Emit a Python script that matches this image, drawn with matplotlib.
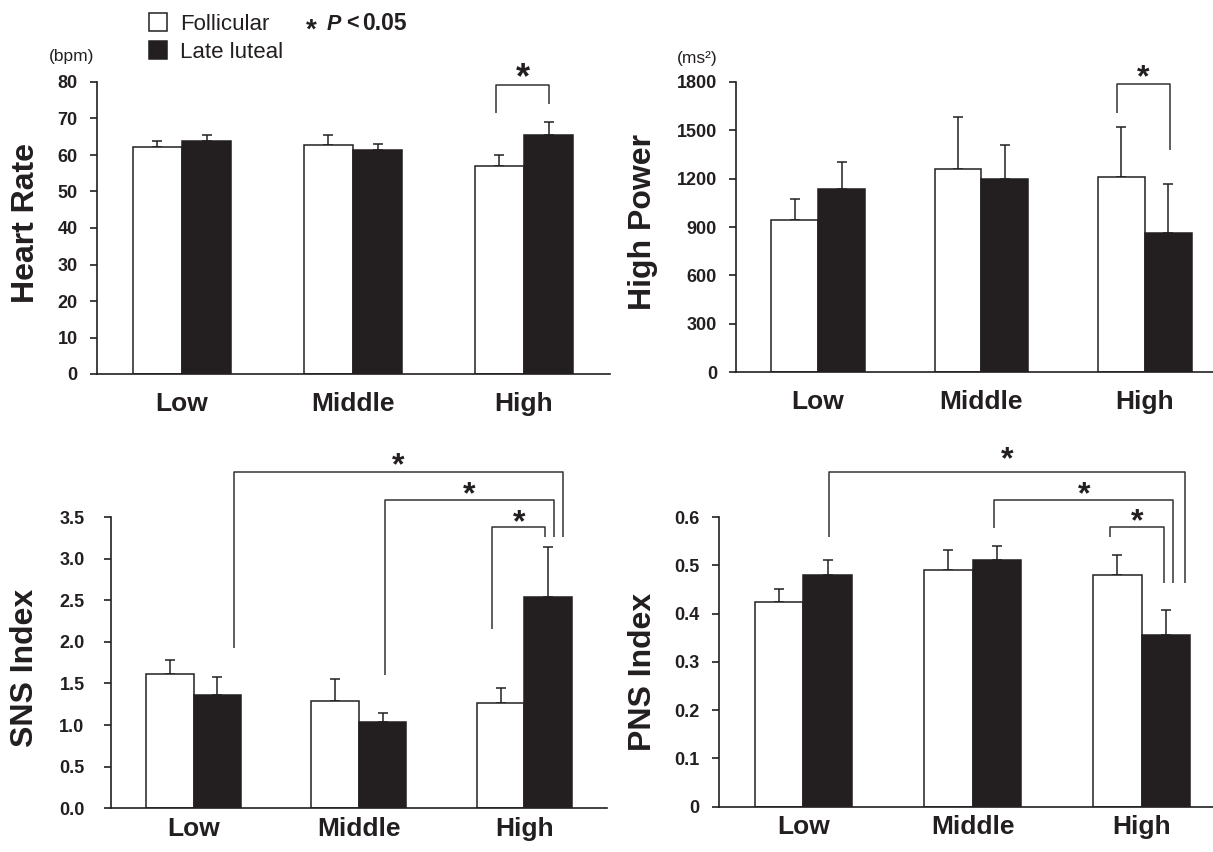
import matplotlib
matplotlib.use("Agg")
import matplotlib.pyplot as plt
from matplotlib.patches import Rectangle
import numpy as np

W, H = 1213, 852
FONT = "Liberation Sans"
DARK = "#231f20"

# ── data ─────────────────────────────────────────────────────────────────────
categories = ["Low", "Middle", "High"]

hr_fol = [62.3, 62.8, 57.1]
hr_fol_err = [1.5, 2.6, 2.8]
hr_lut = [63.9, 61.4, 65.6]
hr_lut_err = [1.5, 1.7, 3.4]

hp_fol = [943, 1261, 1210]
hp_fol_err = [130, 318, 307]
hp_lut = [1133, 1199, 865]
hp_lut_err = [172, 209, 303]

sns_fol = [1.61, 1.29, 1.26]
sns_fol_err = [0.17, 0.26, 0.19]
sns_lut = [1.36, 1.04, 2.54]
sns_lut_err = [0.22, 0.10, 0.60]

pns_fol = [0.423, 0.491, 0.479]
pns_fol_err = [0.028, 0.041, 0.043]
pns_lut = [0.479, 0.510, 0.355]
pns_lut_err = [0.031, 0.029, 0.052]

# brackets: (x_left, x_right, y_top, y_left_end, y_right_end, y_star)
hr_brackets = [(1.836, 2.146, 79.3, 71.5, 73.9, 82.8)]
hp_brackets = [(1.830, 2.153, 1784, 1608, 1377, 1862)]
sns_brackets = [
    (0.244, 2.234, 4.04, 1.93, 3.26, 4.185),
    (1.158, 2.181, 3.71, 1.60, 3.26, 3.84),
    (1.807, 2.127, 3.38, 2.15, 3.26, 3.51),
]
pns_brackets = [
    (0.150, 2.256, 0.693, 0.558, 0.463, 0.7305),
    (1.129, 2.186, 0.636, 0.577, 0.463, 0.658),
    (1.814, 2.133, 0.579, 0.558, 0.463, 0.604),
]

STAR_MID = 0.46  # asterisk glyph centre, in em above the baseline

fig = plt.figure(figsize=(W / 100, H / 100), dpi=100, facecolor="white")


def fx(px):
    return px / W


def fy(py):
    return 1 - py / H


def star(ax, x, y, fs):
    ax.annotate("*", xy=(x, y), xytext=(0, -STAR_MID * fs), textcoords="offset points",
                ha="center", va="baseline", fontsize=fs, fontfamily=FONT,
                fontweight="bold", color=DARK, annotation_clip=False)


def panel(rect, fol, fol_err, lut, lut_err, ylim, yticks, yfmt, brackets,
          ypad, xpad, star_fs=23):
    ax = fig.add_axes(rect)
    x = np.arange(len(categories))
    w = 0.287
    ax.bar(x - w / 2, fol, w, color="white", edgecolor=DARK, linewidth=1.1, zorder=2)
    ax.bar(x + w / 2, lut, w, color=DARK, edgecolor=DARK, linewidth=1.1, zorder=2)
    ax.errorbar(x - w / 2, fol, yerr=[np.zeros(3), fol_err], fmt="none",
                ecolor=DARK, elinewidth=1.1, capsize=3.6, capthick=1.1, zorder=1)
    ax.errorbar(x + w / 2, lut, yerr=[np.zeros(3), lut_err], fmt="none",
                ecolor=DARK, elinewidth=1.1, capsize=3.6, capthick=1.1, zorder=1)
    ax.set_xlim(-0.5, 2.5)
    ax.set_ylim(*ylim)
    ax.set_yticks(yticks)
    ax.set_yticklabels([yfmt.format(t) for t in yticks])
    ax.set_xticks(x)
    ax.set_xticklabels(categories)
    for s in ("top", "right"):
        ax.spines[s].set_visible(False)
    for s in ("left", "bottom"):
        ax.spines[s].set_linewidth(1.2)
        ax.spines[s].set_color(DARK)
    ax.tick_params(axis="y", length=5, width=1.2, color=DARK, pad=ypad,
                   labelsize=13)
    ax.tick_params(axis="x", length=0, pad=xpad, labelsize=19)
    for t in ax.get_yticklabels() + ax.get_xticklabels():
        t.set_fontweight("bold")
        t.set_fontfamily(FONT)
        t.set_color(DARK)
    for (xl, xr, yt, yl, yr, ys) in brackets:
        ax.plot([xl, xl, xr, xr], [yl, yt, yt, yr], color="#333333", lw=1.1,
                clip_on=False, solid_capstyle="butt", zorder=3)
        star(ax, (xl + xr) / 2, ys, star_fs)
    return ax


panel([fx(96.5), fy(374), fx(513), 292 / H], hr_fol, hr_fol_err, hr_lut, hr_lut_err,
      (0, 80), list(range(0, 81, 10)), "{:d}", hr_brackets,
      ypad=8.5, xpad=13, star_fs=26)
panel([fx(736.4), fy(372.3), fx(490), 290.6 / H], hp_fol, hp_fol_err, hp_lut, hp_lut_err,
      (0, 1800), list(range(0, 1801, 300)), "{:d}", hp_brackets,
      ypad=9, xpad=13)
panel([fx(110.9), fy(808.3), fx(496), 291.3 / H], sns_fol, sns_fol_err, sns_lut, sns_lut_err,
      (0, 3.5), [0, 0.5, 1.0, 1.5, 2.0, 2.5, 3.0, 3.5], "{:.1f}", sns_brackets,
      ypad=14, xpad=6)
panel([fx(718.9), fy(806.7), fx(507.3), 289.7 / H], pns_fol, pns_fol_err, pns_lut, pns_lut_err,
      (0, 0.6), [0, 0.1, 0.2, 0.3, 0.4, 0.5, 0.6], "{:g}", pns_brackets,
      ypad=9, xpad=6)

# y labels
for (px, py, t) in [(25.6, 223, "Heart Rate"), (643, 222, "High Power"),
                    (25, 668, "SNS Index"), (643, 672, "PNS Index")]:
    fig.text(fx(px), fy(py), t, rotation=90, ha="center", va="center",
             fontsize=23, fontweight="bold", fontfamily=FONT, color=DARK)

fig.text(fx(72), fy(57), "(bpm)", ha="center", va="center", fontsize=12.5,
         fontfamily=FONT, color=DARK)
fig.text(fx(697), fy(58), "(ms²)", ha="center", va="center", fontsize=12.5,
         fontfamily=FONT, color=DARK)

# legend
fig.patches.append(Rectangle((fx(149), fy(31)), 18 / W, 18 / H, transform=fig.transFigure,
                             facecolor="white", edgecolor=DARK, lw=1.1))
fig.patches.append(Rectangle((fx(149), fy(59)), 18 / W, 18 / H, transform=fig.transFigure,
                             facecolor=DARK, edgecolor=DARK, lw=1.1))
fig.text(fx(180), fy(24), "Follicular", ha="left", va="center", fontsize=16,
         fontfamily=FONT, color=DARK)
fig.text(fx(180), fy(52), "Late luteal", ha="left", va="center", fontsize=16,
         fontfamily=FONT, color=DARK)
fig.text(fx(311.5), fy(25 + STAR_MID * 20 * 100 / 72), "*", ha="center", va="baseline",
         fontsize=20, fontweight="bold", fontfamily=FONT, color=DARK)
fig.text(fx(327), fy(24), "P", ha="left", va="center", fontsize=15.5,
         fontweight="bold", fontstyle="italic", fontfamily=FONT, color=DARK)
fig.text(fx(346), fy(24), "<", ha="left", va="center", fontsize=15.5,
         fontweight="bold", fontfamily=FONT, color=DARK)
fig.text(fx(362), fy(24), "0.05", ha="left", va="center", fontsize=16.5,
         fontweight="bold", fontfamily=FONT, color=DARK)

fig.savefig("out.png", dpi=100, facecolor="white")
